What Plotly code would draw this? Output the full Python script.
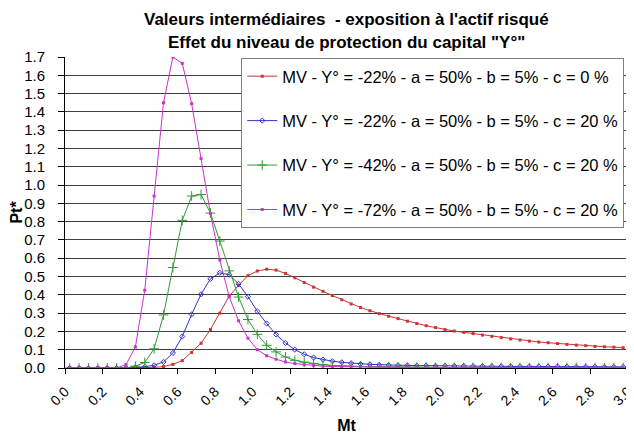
import plotly.graph_objects as go

# Mt category centres (points are drawn between tick marks, step 0.05)
Mt = [0.025, 0.075, 0.125, 0.175, 0.225, 0.275, 0.325, 0.375, 0.425, 0.475,
      0.525, 0.575, 0.625, 0.675, 0.725, 0.775, 0.825, 0.875, 0.925, 0.975,
      1.025, 1.075, 1.125, 1.175, 1.225, 1.275, 1.325, 1.375, 1.425, 1.475,
      1.525, 1.575, 1.625, 1.675, 1.725, 1.775, 1.825, 1.875, 1.925, 1.975,
      2.025, 2.075, 2.125, 2.175, 2.225, 2.275, 2.325, 2.375, 2.425, 2.475,
      2.525, 2.575, 2.625, 2.675, 2.725, 2.775, 2.825, 2.875, 2.925, 2.975]

red_c0 = [0, 0, 0, 0, 0, 0, 0, 0, 0.001, 0.003,
          0.008, 0.02, 0.04, 0.085, 0.135, 0.21, 0.30, 0.393, 0.452, 0.505,
          0.53, 0.54, 0.535, 0.517, 0.493, 0.467, 0.442, 0.419, 0.396, 0.373,
          0.35, 0.331, 0.313, 0.297, 0.283, 0.27, 0.256, 0.243, 0.231, 0.221,
          0.21, 0.202, 0.195, 0.188, 0.18, 0.173, 0.166, 0.159, 0.153, 0.147,
          0.142, 0.138, 0.134, 0.129, 0.125, 0.122, 0.118, 0.116, 0.114, 0.111]

blue_y22 = [0, 0, 0, 0, 0, 0, 0, 0.003, 0.007, 0.015,
            0.033, 0.082, 0.172, 0.293, 0.403, 0.487, 0.52, 0.51, 0.46, 0.39,
            0.31, 0.243, 0.183, 0.137, 0.10, 0.075, 0.057, 0.046, 0.037, 0.031,
            0.026, 0.022, 0.02, 0.018, 0.016, 0.015, 0.014, 0.013, 0.013, 0.012,
            0.012, 0.011, 0.011, 0.01, 0.01, 0.01, 0.009, 0.009, 0.009, 0.008,
            0.008, 0.008, 0.008, 0.007, 0.007, 0.007, 0.007, 0.006, 0.006, 0.006]

green_y42 = [0, 0, 0, 0, 0, 0, 0, 0.01, 0.03, 0.105,
             0.29, 0.549, 0.807, 0.94, 0.948, 0.847, 0.694, 0.531, 0.388, 0.265,
             0.184, 0.124, 0.088, 0.06, 0.042, 0.032, 0.024, 0.018, 0.014, 0.011,
             0.009, 0.008, 0.007, 0.006, 0.005, 0.005, 0.004, 0.004, 0.004, 0.003,
             0.003, 0.003, 0.003, 0.003, 0.002, 0.002, 0.002, 0.002, 0.002, 0.002,
             0.002, 0.002, 0.002, 0.002, 0.002, 0.002, 0.002, 0.002, 0.002, 0.002]

pink_y72 = [0, 0, 0, 0, 0, 0, 0.018, 0.115, 0.425, 0.94,
            1.45, 1.70, 1.665, 1.445, 1.145, 0.845, 0.59, 0.39, 0.258, 0.163,
            0.10, 0.067, 0.048, 0.033, 0.024, 0.018, 0.013, 0.01, 0.008, 0.007,
            0.006, 0.005, 0.004, 0.004, 0.003, 0.003, 0.003, 0.002, 0.002, 0.002,
            0.002, 0.002, 0.002, 0.001, 0.001, 0.001, 0.001, 0.001, 0.001, 0.001,
            0.001, 0.001, 0.001, 0.001, 0.001, 0.001, 0.001, 0.001, 0.001, 0.001]

names = ["MV - Y° = -22% - a = 50% - b = 5% - c = 0 %",
         "MV - Y° = -22% - a = 50% - b = 5% - c = 20 %",
         "MV - Y° = -42% - a = 50% - b = 5% - c = 20 %",
         "MV - Y° = -72% - a = 50% - b = 5% - c = 20 %"]

x_ticks = [0.0, 0.2, 0.4, 0.6, 0.8, 1.0, 1.2, 1.4, 1.6, 1.8, 2.0, 2.2, 2.4, 2.6, 2.8, 3.0]
y_ticks = [0.0, 0.1, 0.2, 0.3, 0.4, 0.5, 0.6, 0.7, 0.8, 0.9, 1.0, 1.1, 1.2, 1.3, 1.4, 1.5, 1.6, 1.7]

series = [red_c0, blue_y22, green_y42, pink_y72]
colors = ["#CC3333", "#3333CC", "#339933", "#CC33CC"]
markers = [dict(symbol="square", size=3),
           dict(symbol="diamond-open", size=4, line=dict(width=1)),
           dict(symbol="cross-thin-open", size=7, line=dict(width=1, color="#339933")),
           dict(symbol="square", size=3)]

FONT = "Liberation Sans, Arial, sans-serif"

fig = go.Figure()
for i, (ys, nm, col, mk) in enumerate(zip(series, names, colors, markers)):
    mk = dict(mk)
    mk["color"] = col
    fig.add_trace(go.Scatter(
        x=Mt, y=ys, name=nm, mode="lines+markers",
        line=dict(color=col, width=1),
        marker=mk, legendgroup="g%d" % i,
    ))

# page body adds an 8px offset, so the figure is sized to fit the 634x440 window
fig.update_layout(
    width=626, height=432,
    margin=dict(l=57, r=6, t=49, b=72),
    paper_bgcolor="white", plot_bgcolor="white",
    font=dict(family=FONT, size=14, color="black"),
    showlegend=True,
    legend=dict(
        x=0.313, y=0.997, xanchor="left", yanchor="top",
        bgcolor="white", bordercolor="#808080", borderwidth=1,
        font=dict(family=FONT, size=16.5, color="black"),
        tracegroupgap=20, itemwidth=30,
    ),
    annotations=[
        dict(text="<b>Valeurs intermédiaires  - exposition à l'actif risqué</b>",
             xref="paper", yref="paper", x=0.5, y=1.0, yshift=37.5,
             xanchor="center", yanchor="middle", showarrow=False,
             font=dict(family=FONT, size=17, color="black")),
        dict(text="<b>Effet du niveau de protection du capital \"Y°\"</b>",
             xref="paper", yref="paper", x=0.5, y=1.0, yshift=14.5,
             xanchor="center", yanchor="middle", showarrow=False,
             font=dict(family=FONT, size=17, color="black")),
    ],
)

fig.update_xaxes(
    range=[0, 3.0005], tickmode="array", tickvals=x_ticks,
    ticktext=["%.1f" % v for v in x_ticks], tickangle=-45,
    ticklabeloverflow="allow", ticklabelstandoff=4,
    showgrid=False, zeroline=False, automargin=False,
    showline=True, linecolor="black", linewidth=1,
    ticks="outside", ticklen=5, tickcolor="black",
    tickfont=dict(family=FONT, size=14, color="black"),
    title=dict(text="<b>Mt</b>", font=dict(family=FONT, size=16, color="black"), standoff=12),
)
fig.update_yaxes(
    range=[0, 1.7], tickmode="array", tickvals=y_ticks,
    ticktext=["%.1f" % v for v in y_ticks],
    showgrid=True, gridcolor="#404040", gridwidth=1,
    zeroline=False, automargin=False,
    showline=True, linecolor="black", linewidth=1,
    ticks="outside", ticklen=6, tickcolor="black", ticklabelstandoff=10,
    tickfont=dict(family=FONT, size=15, color="black"),
    title=dict(text="<b>Pt*</b>", font=dict(family=FONT, size=16, color="black"), standoff=8),
)

fig.write_html("out.html")
